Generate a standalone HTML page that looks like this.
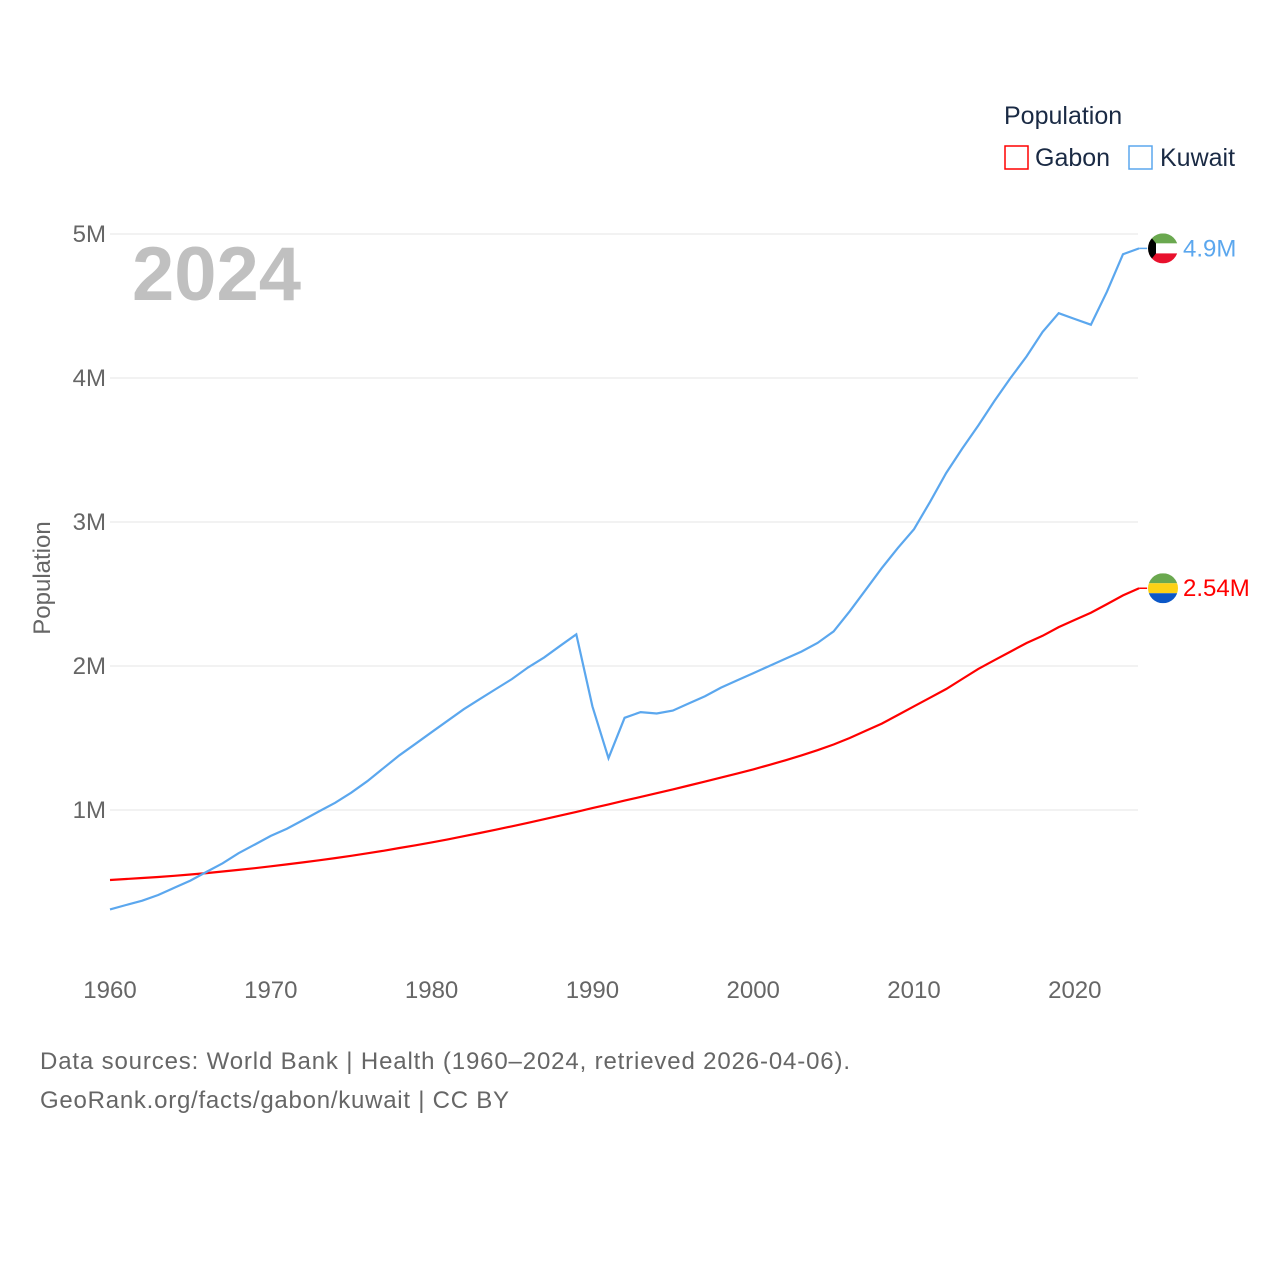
<!DOCTYPE html>
<html><head><meta charset="utf-8"><style>
html,body{margin:0;padding:0;background:#fff;}
svg{display:block;font-family:"Liberation Sans",Arial,sans-serif;}
</style></head><body>
<svg id="chart" width="1280" height="1280" viewBox="0 0 1280 1280">
<g id="grid"></g>
<g id="yticks"></g>
<g id="xticks"></g>
<text x="132" y="300" font-size="76" font-weight="bold" fill="#c0c0c0">2024</text>
<text transform="translate(50,578) rotate(-90)" text-anchor="middle" font-size="24" fill="#666">Population</text>
<g id="lines"></g>
<g>
<text x="1004" y="124" font-size="25" fill="#1a2a44">Population</text>
<g><rect x="1005" y="146" width="23" height="23" fill="none" stroke="#ff0000" stroke-width="1.5"/><text x="1035" y="166" font-size="25" fill="#1a2a44">Gabon</text></g>
<g><rect x="1129" y="146" width="23" height="23" fill="none" stroke="#5ba7ee" stroke-width="1.5"/><text x="1160" y="166" font-size="25" fill="#1a2a44">Kuwait</text></g>
</g>
<g id="ends"></g>
<text x="40" y="1069" font-size="24" fill="#666" textLength="810">Data sources: World Bank | Health (1960–2024, retrieved 2026-04-06).</text>
<text x="40" y="1108" font-size="24" fill="#666" textLength="469">GeoRank.org/facts/gabon/kuwait | CC BY</text>
</svg>
<script>
const years = [];
for (let y = 1960; y <= 2024; y++) years.push(y);
const kuwait = [0.31,0.34,0.37,0.41,0.46,0.51,0.57,0.63,0.70,0.76,
0.82,0.87,0.93,0.99,1.05,1.12,1.20,1.29,1.38,1.46,
1.54,1.62,1.70,1.77,1.84,1.91,1.99,2.06,2.14,2.22,
1.72,1.36,1.64,1.68,1.67,1.69,1.74,1.79,1.85,1.90,
1.95,2.00,2.05,2.10,2.16,2.24,2.38,2.53,2.68,2.82,
2.95,3.14,3.34,3.51,3.67,3.84,4.00,4.15,4.32,4.45,
4.41,4.37,4.60,4.86,4.90];
const gabon = [0.514,0.521,0.528,0.535,0.543,0.552,0.562,0.573,0.584,0.596,
0.609,0.622,0.636,0.651,0.666,0.682,0.699,0.717,0.736,0.755,
0.775,0.796,0.818,0.840,0.863,0.887,0.911,0.936,0.961,0.987,
1.013,1.039,1.065,1.091,1.117,1.143,1.170,1.197,1.225,1.253,
1.282,1.313,1.345,1.379,1.415,1.455,1.500,1.550,1.600,1.660,
1.720,1.780,1.840,1.910,1.980,2.040,2.100,2.160,2.210,2.270,
2.320,2.370,2.430,2.490,2.540];
const yTicks = [1,2,3,4,5];
const yTickLabels = ["1M","2M","3M","4M","5M"];
const xTicks = [1960,1970,1980,1990,2000,2010,2020];
const endLabels = ["4.9M","2.54M"];

const NS = "http://www.w3.org/2000/svg";
const xS = v => 110 + (v - 1960) * 16.08;
const yS = v => 954 - v * 144;
function mk(tag, attrs, parent, txt){const e=document.createElementNS(NS,tag);for(const k in attrs)e.setAttribute(k,attrs[k]);if(txt!==undefined)e.textContent=txt;parent.appendChild(e);return e;}
const grid=document.getElementById('grid'), yt=document.getElementById('yticks'), xt=document.getElementById('xticks');
yTicks.forEach((v,i)=>{
  const l=mk('line',{x1:110,x2:1138,y1:yS(v),y2:yS(v),stroke:'#e6e6e6','stroke-width':1},grid);
  
  
  const t=mk('text',{x:106,y:yS(v)+8,'text-anchor':'end','font-size':24,fill:'#666'},yt,yTickLabels[i]);
  
  
});
xTicks.forEach(v=>{
  const t=mk('text',{x:xS(v),y:998,'text-anchor':'middle','font-size':24,fill:'#666'},xt,String(v));
  
  
});
const lines=document.getElementById('lines');
function path(arr){return arr.map((v,i)=>(i?'L':'M')+xS(years[i]).toFixed(1)+','+yS(v).toFixed(1)).join('');}
const pg=mk('path',{d:path(gabon),fill:'none',stroke:'#ff0000','stroke-width':2.2},lines);


const pk=mk('path',{d:path(kuwait),fill:'none',stroke:'#5ba7ee','stroke-width':2.2},lines);



const ends=document.getElementById('ends');
function flag(cx,cy,colors,name,black){
  const g=mk('g',{},ends);
  
  
  const id='clip'+name;
  const cp=mk('clipPath',{id:id},g); mk('circle',{cx:cx,cy:cy,r:15},cp);
  const gg=mk('g',{'clip-path':'url(#'+id+')'},g);
  colors.forEach((c,i)=>mk('rect',{x:cx-15,y:cy-15+i*10,width:30,height:10,fill:c},gg));
  if(black) mk('polygon',{points:`${cx-15},${cy-15} ${cx-7},${cy-5} ${cx-7},${cy+5} ${cx-15},${cy+15}`,fill:'#000'},gg);
}
const lastK=kuwait[kuwait.length-1], lastG=gabon[gabon.length-1];
mk('line',{x1:xS(2024),x2:xS(2024)+8,y1:yS(lastK),y2:yS(lastK),stroke:'#5ba7ee','stroke-width':1.5},ends);
mk('line',{x1:xS(2024),x2:xS(2024)+8,y1:yS(lastG),y2:yS(lastG),stroke:'#ff0000','stroke-width':1.5},ends);
flag(1163,yS(lastK),['#6aa84f','#ffffff','#e8112d'],'kuwait-flag',true);
flag(1163,yS(lastG),['#6aa84f','#fcd116','#0b57c7'],'gabon-flag',false);
const tk=mk('text',{x:1183,y:yS(lastK)+8,'font-size':24,fill:'#5ba7ee'},ends,endLabels[0]);


const tg=mk('text',{x:1183,y:yS(lastG)+8,'font-size':24,fill:'#ff0000'},ends,endLabels[1]);


</script>
</body></html>
